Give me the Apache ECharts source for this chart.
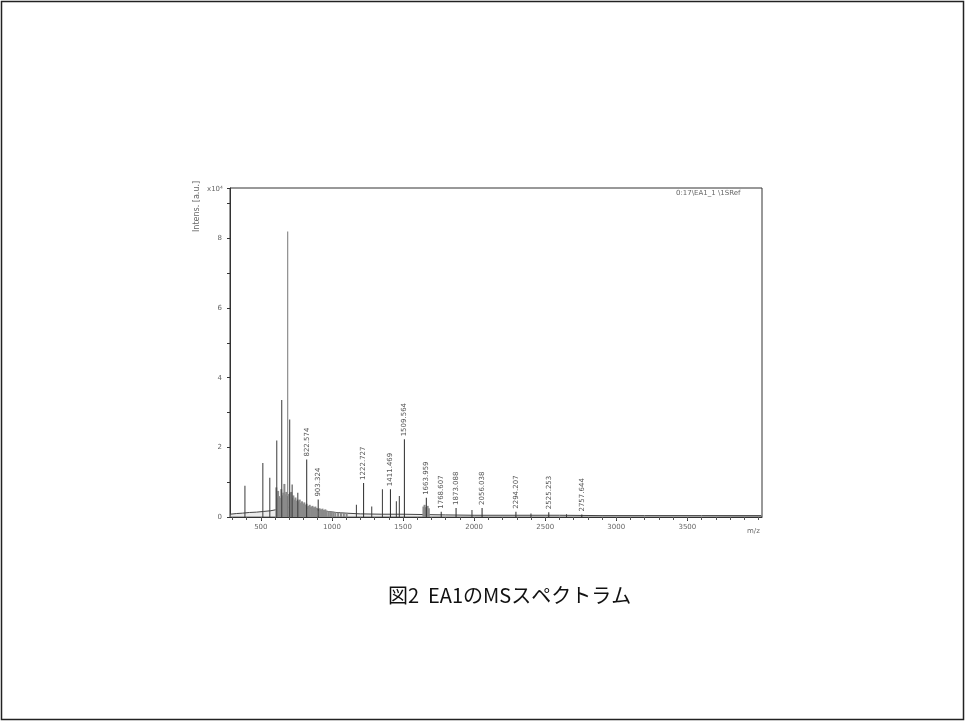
<!DOCTYPE html>
<html><head><meta charset="utf-8">
<script src="https://cdn.jsdelivr.net/npm/echarts@6/dist/echarts.min.js"></script>
<style>html,body{margin:0;padding:0;background:#fff}#c{width:966px;height:722px}</style>
</head><body><div id="c"></div>
<script>
// m/z axis tick labels
const xTickValues = [500, 1000, 1500, 2000, 2500, 3000, 3500];
const yTickValues = [0, 2, 4, 6, 8];
// baseline (x10^4)
const baselineMz = [283, 330, 370, 420, 470, 520, 570, 620, 670, 720, 770, 820, 870, 920, 970, 1030, 1100, 1200, 1350, 1500, 1650, 1800, 2000, 2300, 2600, 2900, 3200, 3600, 4020];
const baselineI  = [0.08, 0.10, 0.11, 0.13, 0.14, 0.16, 0.18, 0.22, 0.27, 0.29, 0.28, 0.26, 0.23, 0.19, 0.16, 0.13, 0.11, 0.09, 0.08, 0.08, 0.07, 0.06, 0.05, 0.05, 0.05, 0.04, 0.04, 0.04, 0.04];
// dense unresolved cluster (gray)
const clusterMz = [605, 612, 618, 625, 632, 640, 648, 655, 662, 668, 675, 682, 695, 702, 710, 718, 725, 732, 740, 748, 755, 762, 770, 778, 786, 794, 802, 810, 818, 830, 840, 850, 860, 870, 880, 890, 910, 920, 930, 940, 950, 960, 975, 990, 1005, 1020, 1040, 1060, 1080, 1100, 1640, 1648, 1656, 1670, 1678];
const clusterI  = [0.85, 0.55, 0.75, 0.6, 0.55, 0.8, 0.62, 0.7, 0.95, 0.65, 0.72, 0.6, 0.66, 0.7, 0.72, 0.55, 0.62, 0.5, 0.56, 0.46, 0.5, 0.45, 0.5, 0.4, 0.45, 0.38, 0.42, 0.35, 0.38, 0.32, 0.35, 0.3, 0.32, 0.28, 0.3, 0.26, 0.25, 0.22, 0.24, 0.2, 0.22, 0.18, 0.17, 0.16, 0.15, 0.14, 0.13, 0.14, 0.12, 0.12, 0.3, 0.35, 0.28, 0.32, 0.25];
// resolved peaks without labels
const peakMz = [388, 514, 563, 612, 647, 703, 720, 760, 1172, 1280, 1355, 1453, 1474, 1985, 2400, 2650];
const peakI  = [0.9, 1.55, 1.13, 2.2, 3.36, 2.8, 0.93, 0.7, 0.35, 0.3, 0.8, 0.45, 0.6, 0.2, 0.1, 0.08];
// base peak (drawn lighter, as in the scan)
const basePeakMz = [689];
const basePeakI  = [8.2];
// labelled peaks
const labMz = [822.574, 903.324, 1222.727, 1411.469, 1509.564, 1663.959, 1768.607, 1873.088, 2056.038, 2294.207, 2525.253, 2757.644];
const labI  = [1.65, 0.5, 0.98, 0.8, 2.23, 0.55, 0.15, 0.26, 0.26, 0.15, 0.14, 0.07];
const labText = ['822.574', '903.324', '1222.727', '1411.469', '1509.564', '1663.959', '1768.607', '1873.088', '2056.038', '2294.207', '2525.253', '2757.644'];

const minorTicks = [];
for (let v = 300; v <= 4000; v += 100) minorTicks.push(v);

const chart = echarts.init(document.getElementById('c'));
const axisFont = {fontFamily: 'DejaVu Sans', fontSize: 7, color: '#666'};
const gridBox = {left: 230, top: 188, right: 204, bottom: 205};
chart.setOption({
  animation: false,
  backgroundColor: '#fff',
  graphic: [
    {type: 'rect', shape: {x: 1.5, y: 1.5, width: 962, height: 718}, style: {fill: 'none', stroke: '#222', lineWidth: 1.5}},
    {type: 'text', left: 388, top: 585, style: {text: '図2  EA1のMSスペクトラム', font: '20px "Noto Sans CJK JP"', fill: '#111'}},
    {type: 'text', left: 207, top: 186, style: {text: 'x10⁴', font: '7px "DejaVu Sans"', fill: '#666'}},
    {type: 'text', x: 193, y: 232, rotation: Math.PI / 2, style: {text: 'Intens. [a.u.]', font: '8px "DejaVu Sans"', fill: '#666'}},
    {type: 'text', left: 676, top: 190, style: {text: '0:17\\EA1_1 \\1SRef', font: '7px "DejaVu Sans"', fill: '#666'}},
    {type: 'text', left: 747, top: 528, style: {text: 'm/z', font: '7px "DejaVu Sans"', fill: '#666'}}
  ],
  grid: [
    Object.assign({show: true, borderColor: '#333', borderWidth: 1}, gridBox),
    Object.assign({show: false}, gridBox)
  ],
  xAxis: [{
    type: 'value', gridIndex: 0, min: 283, max: 4025,
    axisLine: {lineStyle: {color: '#333'}},
    axisTick: {show: true, customValues: xTickValues, length: 4, lineStyle: {color: '#333'}},
    axisLabel: Object.assign({customValues: xTickValues, margin: 7, formatter: v => String(v)}, axisFont),
    splitLine: {show: false}
  }, {
    type: 'value', gridIndex: 1, min: 283, max: 4025, position: 'bottom',
    axisLine: {show: false},
    axisTick: {show: true, customValues: minorTicks, length: 3, lineStyle: {color: '#555'}},
    axisLabel: {show: true, customValues: minorTicks, formatter: () => ''}, splitLine: {show: false}
  }],
  yAxis: [{
    type: 'value', gridIndex: 0, min: 0, max: 9.45, interval: 1,
    axisLine: {show: true, lineStyle: {color: '#333'}},
    axisTick: {length: 3, lineStyle: {color: '#333'}},
    axisLabel: Object.assign({margin: 8, formatter: v => (yTickValues.indexOf(v) >= 0 ? String(v) : '')}, axisFont),
    splitLine: {show: false}
  }, {
    type: 'value', gridIndex: 1, min: 0, max: 9.45, show: false
  }],
  series: [
    {type: 'line', data: baselineMz.map((m, i) => [m, baselineI[i]]), symbol: 'none',
     lineStyle: {color: '#444', width: 1}, areaStyle: {color: '#ccc', opacity: 0.4}, z: 1},
    {type: 'bar', data: clusterMz.map((m, i) => [m, clusterI[i]]), barWidth: 2,
     itemStyle: {color: '#8a8a8a'}, z: 2},
    {type: 'bar', data: peakMz.map((m, i) => [m, peakI[i]]), barWidth: 1, barGap: '-100%',
     itemStyle: {color: '#3a3a3a'}, z: 3},
    {type: 'bar', data: basePeakMz.map((m, i) => [m, basePeakI[i]]), barWidth: 1, barGap: '-100%',
     itemStyle: {color: '#777'}, z: 3},
    {type: 'bar', data: labMz.map((m, i) => [m, labI[i]]), barWidth: 1, barGap: '-100%',
     itemStyle: {color: '#2a2a2a'}, z: 4,
     label: {show: true, position: 'top', rotate: 90, align: 'left', verticalAlign: 'middle', distance: 3,
             formatter: p => labText[p.dataIndex], fontFamily: 'DejaVu Sans', fontSize: 7, color: '#555'}}
  ]
});
</script></body></html>
